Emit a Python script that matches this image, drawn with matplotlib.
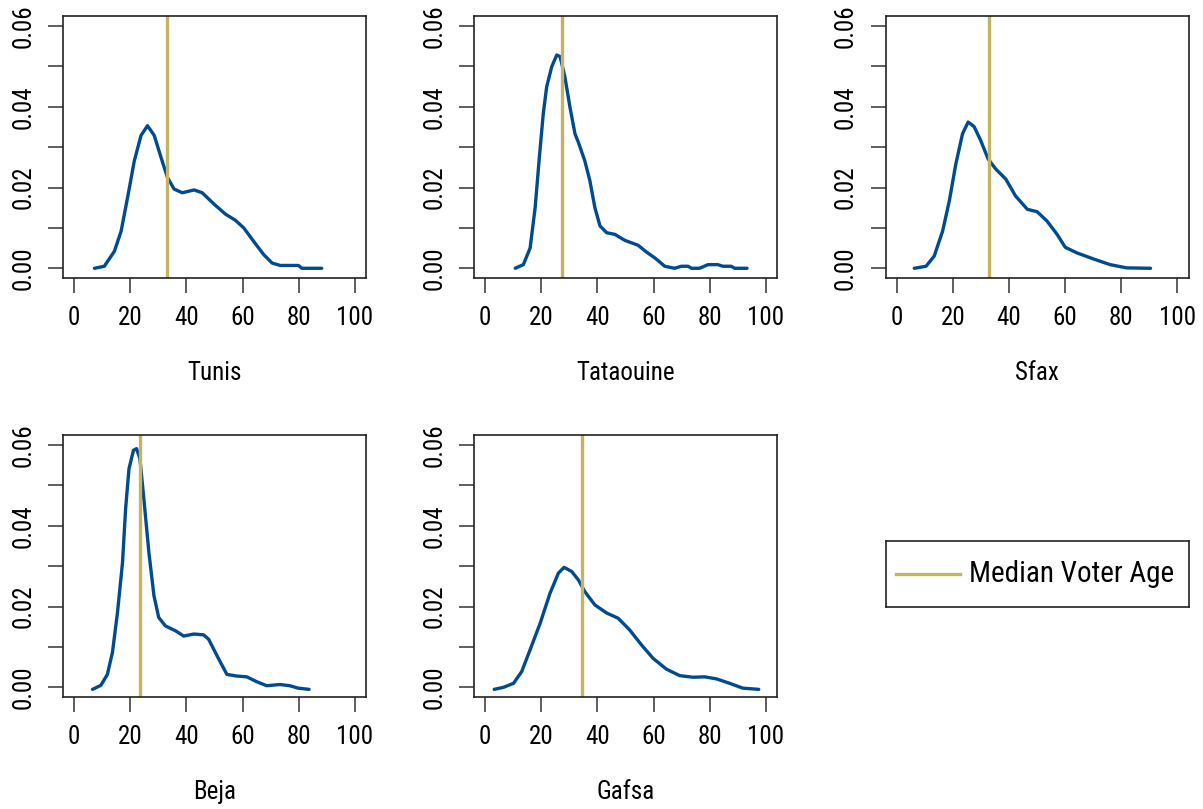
import matplotlib
matplotlib.use("Agg")
import matplotlib.pyplot as plt

plt.rcParams['font.family'] = ['Roboto Condensed', 'DejaVu Sans']

blue = '#004B8D'
gold = '#C4B462'

regions = ["Tunis", "Tataouine", "Sfax", "Beja", "Gafsa"]
medians = [33.0, 27.5, 32.7, 23.4, 34.5]

tunis_age = [7.2, 10.7, 14.3, 16.7, 19.0, 21.4, 23.8, 26.1, 28.5, 30.9, 33.2, 35.6, 38.5,
             42.7, 45.6, 49.8, 53.9, 57.4, 60.4, 63.9, 67.5, 70.5, 73.4, 79.9, 81.1, 88.2]
tunis_dens = [0.0, 0.0005, 0.0042, 0.0092, 0.0175, 0.0266, 0.0329, 0.0353, 0.0329, 0.0275,
              0.0225, 0.0196, 0.0187, 0.0194, 0.0187, 0.0159, 0.0134, 0.0119, 0.0100, 0.0067,
              0.0034, 0.0013, 0.0007, 0.0007, 0.0, 0.0]

tataouine_age = [10.7, 13.6, 16.0, 17.8, 19.3, 20.7, 21.9, 23.7, 25.5, 26.7, 28.4, 30.2, 32.0,
                 33.2, 35.5, 37.3, 39.1, 40.9, 43.3, 46.2, 49.8, 54.5, 57.5, 60.4, 64.0, 67.5,
                 69.9, 72.3, 73.5, 76.4, 79.4, 82.9, 84.7, 87.7, 88.9, 93.3]
tataouine_dens = [0.0, 0.0009, 0.0050, 0.0150, 0.0275, 0.0383, 0.0449, 0.0499, 0.0528, 0.0524,
                  0.0474, 0.0399, 0.0333, 0.0312, 0.0266, 0.0217, 0.0150, 0.0105, 0.0088, 0.0084,
                  0.0069, 0.0057, 0.0040, 0.0026, 0.0005, 0.0, 0.0005, 0.0005, 0.0, 0.0, 0.0009,
                  0.0009, 0.0005, 0.0005, 0.0, 0.0]

sfax_age = [6.2, 10.4, 13.3, 16.3, 18.7, 21.0, 23.4, 25.4, 27.5, 29.9, 32.5, 35.2, 38.8, 42.3,
            46.5, 50.0, 53.5, 57.1, 60.0, 64.2, 70.1, 76.0, 81.9, 90.4]
sfax_dens = [0.0, 0.0005, 0.0030, 0.0092, 0.0167, 0.0258, 0.0333, 0.0362, 0.0351, 0.0316,
             0.0271, 0.0246, 0.0221, 0.0179, 0.0146, 0.0140, 0.0117, 0.0084, 0.0052, 0.0038,
             0.0023, 0.0009, 0.0001, 0.0]

beja_age = [6.5, 9.5, 11.8, 13.6, 15.4, 17.2, 18.3, 19.5, 21.1, 22.2, 23.4, 24.8, 26.6, 28.4,
            30.1, 32.5, 36.1, 39.0, 42.6, 46.1, 47.9, 50.9, 54.4, 57.9, 61.5, 65.0, 68.6, 73.3,
            76.8, 79.8, 83.7]
beja_dens = [-0.0005, 0.0005, 0.0032, 0.0086, 0.0185, 0.0309, 0.0442, 0.0541, 0.0587, 0.0591,
             0.0566, 0.0467, 0.0334, 0.0227, 0.0173, 0.0152, 0.0140, 0.0127, 0.0132, 0.0130,
             0.0119, 0.0078, 0.0032, 0.0028, 0.0026, 0.0014, 0.0004, 0.0007, 0.0004, -0.0002,
             -0.0005]

gafsa_age = [3.2, 6.5, 10.1, 13.0, 16.0, 19.6, 23.1, 26.1, 28.1, 30.8, 33.2, 35.5, 39.1, 43.3,
             47.4, 51.5, 55.7, 59.8, 64.6, 69.3, 74.1, 78.2, 82.4, 87.1, 91.8, 97.5]
gafsa_dens = [-0.0005, 0.0, 0.0010, 0.0039, 0.0093, 0.0159, 0.0233, 0.0283, 0.0297, 0.0287,
              0.0266, 0.0237, 0.0204, 0.0184, 0.0171, 0.0142, 0.0105, 0.0072, 0.0045, 0.0029,
              0.0025, 0.0026, 0.0021, 0.0010, -0.0002, -0.0005]

ages = [tunis_age, tataouine_age, sfax_age, beja_age, gafsa_age]
dens = [tunis_dens, tataouine_dens, sfax_dens, beja_dens, gafsa_dens]

x_ticks = [0, 20, 40, 60, 80, 100]
y_ticks = [0.00, 0.01, 0.02, 0.03, 0.04, 0.05, 0.06]
y_labels = ["0.00", "", "0.02", "", "0.04", "", "0.06"]

fig = plt.figure(figsize=(12.03, 8.09), dpi=100)

lefts = [0.0524, 0.3940, 0.7362]
bottoms = [0.6564, 0.1384]
w, h = 0.2519, 0.3235

for i, name in enumerate(regions):
    r, c = divmod(i, 3)
    ax = fig.add_axes([lefts[c], bottoms[r], w, h])
    ax.plot(ages[i], dens[i], color=blue, lw=2.4, solid_capstyle='round', solid_joinstyle='round')
    ax.axvline(medians[i], color=gold, lw=2.4)
    ax.set_xlim(-4, 104)
    ax.set_ylim(-0.0024, 0.0624)
    ax.set_xticks(x_ticks)
    ax.set_xticklabels([str(t) for t in x_ticks])
    ax.set_yticks(y_ticks)
    ax.set_yticklabels(y_labels, rotation=90, va='center')
    ax.tick_params(direction='out', length=11, width=1.1, labelsize=18, pad=9, color='#333333')
    for s in ax.spines.values():
        s.set_linewidth(1.2)
        s.set_color('#222222')
    ax.text(0.5, -0.363, name, transform=ax.transAxes, ha='center', va='center', fontsize=18)

# legend box
lax = fig.add_axes([0.7362, 0.2501, 0.2521, 0.0816])
lax.set_xlim(0, 1)
lax.set_ylim(0, 1)
lax.set_xticks([])
lax.set_yticks([])
for s in lax.spines.values():
    s.set_linewidth(1.2)
    s.set_color('#222222')
lax.plot([0.033, 0.245], [0.5, 0.5], color=gold, lw=2.4)
lax.text(0.275, 0.5, "Median Voter Age", ha='left', va='center', fontsize=21)

fig.savefig("out.png", dpi=100)
